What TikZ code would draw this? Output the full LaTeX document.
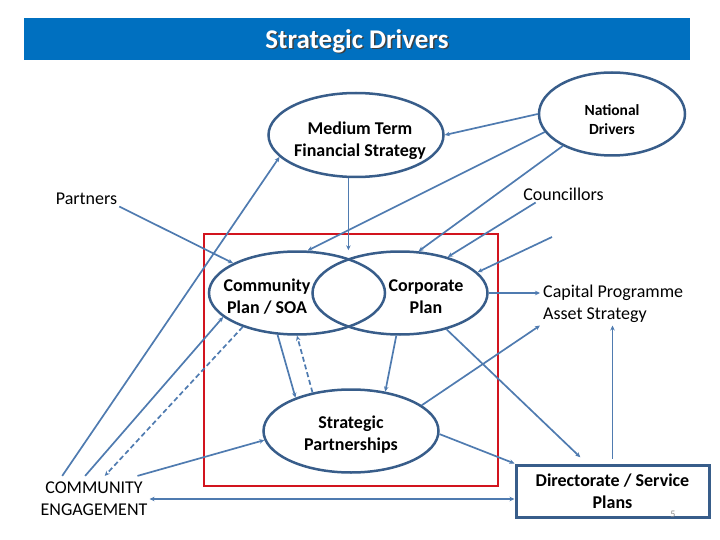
\documentclass[tikz,border=0pt]{standalone}
\usepackage{fontspec}
\setmainfont{Carlito}
\usetikzlibrary{arrows.meta,shapes.geometric}
\definecolor{barblue}{HTML}{0070C0}
\definecolor{outl}{HTML}{385D8A}
\definecolor{connc}{HTML}{4F7BB0}
\definecolor{boxred}{RGB}{210,20,30}
\begin{document}
\begin{tikzpicture}[x=1pt,y=-1pt,
  oval/.style={draw=outl,line width=2.5pt,ellipse,minimum width=175pt,minimum height=83pt,inner sep=0pt},
  lbl/.style={font=\fontsize{18}{22}\selectfont,align=center,inner sep=2pt},
  blbl/.style={font=\fontsize{18}{22}\selectfont\bfseries,align=center,inner sep=2pt},
  link/.style={draw=connc,line width=1.7pt,-{Stealth[length=5pt,width=4.5pt]}},
  dlink/.style={link,dash pattern=on 5pt off 3pt},
]
\useasboundingbox (0,0) rectangle (720,540);
% title bar
\fill[barblue] (24,18) rectangle (690,60);
\node[font=\fontsize{27}{30}\selectfont\bfseries,text=black!75] (titleS) at (358.5,42.5) {Strategic Drivers};
\node[font=\fontsize{27}{30}\selectfont\bfseries,text=white] (title) at (357,41) {Strategic Drivers};

% red frame
\draw[boxred,line width=2.5pt] (204,234) rectangle (498,486);

% ellipses
\node[oval,minimum height=84pt] (mtfs) at (356,135) {};
\node[oval,minimum width=146pt] (nd) at (612,114) {};
\node[oval,minimum width=176pt] (cpl) at (297,293) {};
\node[oval] (cor) at (400,293) {};
\node[oval] (sp) at (351,431) {};

% ellipse texts
\node[blbl] (mtfsT) at (360,141) {Medium Term\\Financial Strategy};
\node[font=\fontsize{15.5}{19}\selectfont\bfseries,align=center,inner sep=2pt] (ndT) at (612,119.5) {National\\Drivers};
\node[blbl] (cplT) at (267,297) {Community\\Plan / SOA};
\node[blbl] (corT) at (426,297) {Corporate\\Plan};
\node[blbl] (spT) at (351,434.5) {Strategic\\Partnerships};

% other texts
\node[lbl] (cou) at (563.5,194) {Councillors};
\node[lbl] (par) at (86.5,199) {Partners};
\node[lbl,align=left,anchor=west,inner sep=3pt] (cap) at (540,303.5) {Capital Programme\\Asset Strategy};
\node[lbl,inner xsep=2pt,inner ysep=6pt] (ce) at (94,499) {COMMUNITY\\ENGAGEMENT};
\node[blbl,draw=outl,line width=3pt,minimum width=193pt,minimum height=52pt,inner sep=0pt] (dir) at (612.5,491) {Directorate / Service\\Plans};
\node[font=\fontsize{10}{12}\selectfont,text=black!45,inner sep=0pt] (pg) at (673,514) {5};

\coordinate (c2) at (552,237);

% connectors
\draw[link] (ce.144) -- (mtfs.196);
\draw[link] (ce.111) -- (cpl.198);
\draw[dlink] (cpl.212) -- (ce.65);
\draw[link] (ce.28) -- (sp.186);
\draw[link,{Stealth[length=5pt,width=4.5pt]}-{Stealth[length=5pt,width=4.5pt]}] (ce.east) -- (ce.east -| dir.west);
\draw[link] (par.-13) -- (cpl.155);
\draw[link] (mtfs.260) -- (mtfs.260 |- cpl.north);
\draw[link] (nd.west) -- (mtfs.east);
\draw[link] (nd.195) -- (cpl.76);
\draw[link] (nd.213) -- (cor.66);
\draw[link] (cou.197) -- (cor.37);
\draw[link] (c2) -- (cor.15);
\draw[link] (cor.east) -- (cor.east -| cap.west);
\draw[link,shorten >=9pt] (cor.-38) -- (dir.133);
\draw[link] (sp.20) -- (cap.south west);
\draw[link] (sp.-2) -- (dir.north west);
\draw[link,shorten <=5pt] (dir.north) -- (dir.north |- cap.south);
\draw[link] (cpl.245) -- (sp.149);
\draw[dlink] (sp.135) -- (cpl.270);
\draw[link] (cor.265) -- (sp.49);
\end{tikzpicture}
\end{document}
